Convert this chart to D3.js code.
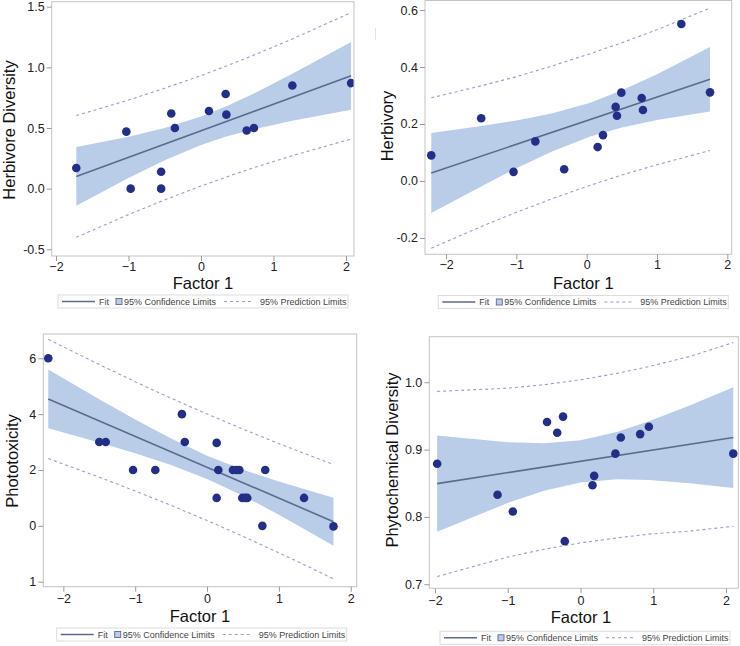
<!DOCTYPE html>
<html><head><meta charset="utf-8">
<script src="https://cdn.jsdelivr.net/npm/d3@7"></script>
<style>
body{margin:0;background:#fff}
svg{display:block;font-family:"Liberation Sans",Arial,sans-serif}
</style></head><body>
<svg id="c" width="740" height="646"></svg>
<script>
// ---------- Panel 1: Herbivore Diversity ----------
const p1X = [-1.72, -1.03, -0.97, -0.55, -0.55, -0.41, -0.36, 0.11, 0.34, 0.35, 0.63, 0.73, 1.26, 2.07];
const p1Y = [0.17, 0.47, 0.00, 0.14, 0.00, 0.62, 0.50, 0.64, 0.78, 0.61, 0.48, 0.50, 0.85, 0.87];
const p1FitX = [-1.72, 2.07];
const p1FitY = [0.101, 0.930];
const p1BandX = [-1.72, -1.0, -0.5, 0, 0.35, 0.73, 1.26, 2.07];
const p1CLlo = [-0.141, 0.088, 0.235, 0.359, 0.429, 0.489, 0.559, 0.651];
const p1CLhi = [0.343, 0.428, 0.501, 0.595, 0.679, 0.785, 0.947, 1.209];
const p1PLlo = [-0.401, -0.214, -0.092, 0.022, 0.096, 0.173, 0.272, 0.409];
const p1PLhi = [0.603, 0.730, 0.828, 0.932, 1.011, 1.101, 1.234, 1.451];
const p1XTicks = [-2, -1, 0, 1, 2];
const p1YTicks = [-0.5, 0, 0.5, 1, 1.5];
const p1YLabels = ["-0.5", "0.0", "0.5", "1.0", "1.5"];

// ---------- Panel 2: Herbivory ----------
const p2X = [-2.21, -1.50, -1.04, -0.73, -0.32, 0.156, 0.232, 0.412, 0.431, 0.493, 0.782, 0.80, 1.346, 1.754];
const p2Y = [0.09, 0.22, 0.032, 0.139, 0.041, 0.119, 0.161, 0.26, 0.229, 0.31, 0.291, 0.249, 0.551, 0.311];
const p2FitX = [-2.21, 1.754];
const p2FitY = [0.028, 0.357];
const p2BandX = [-2.21, -1.5, -1.0, -0.5, 0.04, 0.5, 1.0, 1.754];
const p2CLlo = [-0.112, -0.019, 0.045, 0.103, 0.155, 0.188, 0.214, 0.244];
const p2CLhi = [0.168, 0.193, 0.212, 0.237, 0.274, 0.318, 0.375, 0.470];
const p2PLlo = [-0.236, -0.160, -0.110, -0.063, -0.016, 0.021, 0.057, 0.107];
const p2PLhi = [0.292, 0.334, 0.366, 0.403, 0.446, 0.485, 0.531, 0.607];
const p2XTicks = [-2, -1, 0, 1, 2];
const p2YTicks = [-0.2, 0, 0.2, 0.4, 0.6];
const p2YLabels = ["-0.2", "0.0", "0.2", "0.4", "0.6"];

// ---------- Panel 3: Phototoxicity ----------
const p3X = [-2.21, -1.50, -1.41, -1.03, -0.72, -0.35, -0.31, 0.134, 0.134, 0.157, 0.36, 0.41, 0.45, 0.49, 0.53, 0.56, 0.77, 0.81, 1.35, 1.76];
const p3Y = [6, 3, 3, 2, 2, 4, 3, 2.97, 1, 2, 2, 2, 2, 1, 1, 1, 0, 2, 1, -0.02];
const p3FitX = [-2.21, 1.76];
const p3FitY = [4.545, 0.15];
const p3BandX = [-2.21, -1.5, -1.0, -0.5, 0, 0.5, 1.0, 1.35, 1.76];
const p3CLlo = [3.495, 2.981, 2.599, 2.179, 1.682, 1.079, 0.397, -0.110, -0.71];
const p3CLhi = [5.595, 4.537, 3.811, 3.125, 2.514, 2.010, 1.585, 1.317, 1.01];
const p3PLlo = [2.41, 1.743, 1.249, 0.733, 0.192, -0.373, -0.962, -1.389, -1.899];
const p3PLhi = [6.68, 5.775, 5.161, 4.571, 4.004, 3.462, 2.944, 2.596, 2.199];
const p3XTicks = [-2, -1, 0, 1, 2];
const p3YTicks = [-2, 0, 2, 4, 6];
const p3YLabels = ["1", "0", "2", "4", "6"];

// ---------- Panel 4: Phytochemical Diversity ----------
const p4X = [-1.97, -1.14, -0.93, -0.46, -0.32, -0.24, -0.216, 0.165, 0.188, 0.48, 0.554, 0.82, 0.94, 2.10];
const p4Y = [0.879, 0.833, 0.808, 0.941, 0.925, 0.949, 0.764, 0.847, 0.861, 0.894, 0.918, 0.923, 0.934, 0.894];
const p4FitX = [-1.97, 2.10];
const p4FitY = [0.8495, 0.9179];
const p4BandX = [-1.97, -1.0, -0.5, 0, 0.5, 0.94, 1.5, 2.10];
const p4CLlo = [0.778, 0.8208, 0.839, 0.8513, 0.8558, 0.8547, 0.850, 0.843];
const p4CLhi = [0.921, 0.9108, 0.9094, 0.9139, 0.9262, 0.9421, 0.9656, 0.9928];
const p4PLlo = [0.7115, 0.7404, 0.752, 0.7615, 0.7688, 0.7745, 0.779, 0.786];
const p4PLhi = [0.9865, 0.9912, 0.9964, 1.0037, 1.0132, 1.0233, 1.0383, 1.059];
const p4XTicks = [-2, -1, 0, 1, 2];
const p4YTicks = [0.7, 0.8, 0.9, 1.0];
const p4YLabels = ["0.7", "0.8", "0.9", "1.0"];

const legendItems = ["Fit", "95% Confidence Limits", "95% Prediction Limits"];
const xTitle = "Factor 1";

const C = {dot: "#232f86", fit: "#5b6b8e", band: "#b9cde9", pi: "#9b9bcc", frame: "#c4c4c4", text: "#222"};

const panels = [
  {x: p1X, y: p1Y, fx: p1FitX, fy: p1FitY, bx: p1BandX, cl: p1CLlo, ch: p1CLhi, pl: p1PLlo, ph: p1PLhi,
   xt: p1XTicks, yt: p1YTicks, yl: p1YLabels, title: "Herbivore Diversity",
   frame: [51.7, 1.7, 354, 256], xd: [-2.059, 2.110], yd: [-0.555, 1.541],
   xpad: 1, ytx: 15, yty: 130, xtx: 203, xty: 288.5, leg: [58, 301.5]},
  {x: p2X, y: p2Y, fx: p2FitX, fy: p2FitY, bx: p2BandX, cl: p2CLlo, ch: p2CLhi, pl: p2PLlo, ph: p2PLhi,
   xt: p2XTicks, yt: p2YTicks, yl: p2YLabels, title: "Herbivory",
   frame: [425, 0.5, 731.7, 254.3], xd: [-2.299, 2.062], yd: [-0.2573, 0.6334],
   xpad: 1, ytx: 393, yty: 126, xtx: 583.3, xty: 289, leg: [438.3, 302]},
  {x: p3X, y: p3Y, fx: p3FitX, fy: p3FitY, bx: p3BandX, cl: p3CLlo, ch: p3CLhi, pl: p3PLlo, ph: p3PLhi,
   xt: p3XTicks, yt: p3YTicks, yl: p3YLabels, title: "Phototoxicity",
   frame: [43.3, 334, 356.7, 586.7], xd: [-2.279, 2.083], yd: [-2.179, 6.870],
   xpad: 2.5, ytx: 18, yty: 461, xtx: 200, xty: 622, leg: [56.7, 634.5]},
  {x: p4X, y: p4Y, fx: p4FitX, fy: p4FitY, bx: p4BandX, cl: p4CLlo, ch: p4CLhi, pl: p4PLlo, ph: p4PLhi,
   xt: p4XTicks, yt: p4YTicks, yl: p4YLabels, title: "Phytochemical Diversity",
   frame: [429.3, 336.7, 738.3, 588.3], xd: [-2.078, 2.169], yd: [0.694, 1.0677],
   xpad: 3, ytx: 398, yty: 460, xtx: 581, xty: 623, leg: [440, 637.8]}
];

const svg = d3.select("#c");

// faint artifact mark near top of panel 2
svg.append("line").attr("x1", 375.5).attr("x2", 375.5).attr("y1", 28).attr("y2", 40)
  .attr("stroke", "#e2e2e2").attr("stroke-width", 1);

panels.forEach((p, pi) => {
  const [x0, y0, x1, y1] = p.frame;
  const xs = d3.scaleLinear().domain(p.xd).range([x0, x1]);
  const ys = d3.scaleLinear().domain(p.yd).range([y1, y0]);
  const g = svg.append("g");
  const cid = "clip" + pi;
  g.append("clipPath").attr("id", cid).append("rect")
    .attr("x", x0).attr("y", y0).attr("width", x1 - x0).attr("height", y1 - y0);
  const plot = g.append("g").attr("clip-path", `url(#${cid})`);
  const idx = d3.range(p.bx.length);

  plot.append("path").datum(idx)
    .attr("d", d3.area().x(i => xs(p.bx[i])).y0(i => ys(p.cl[i])).y1(i => ys(p.ch[i])))
    .attr("fill", C.band);

  plot.append("path").datum(d3.range(p.fx.length))
    .attr("d", d3.line().x(i => xs(p.fx[i])).y(i => ys(p.fy[i])))
    .attr("fill", "none").attr("stroke", C.fit).attr("stroke-width", 1.6);

  [p.pl, p.ph].forEach(arr => {
    plot.append("path").datum(idx)
      .attr("d", d3.line().x(i => xs(p.bx[i])).y(i => ys(arr[i])))
      .attr("fill", "none").attr("stroke", C.pi).attr("stroke-width", 1.1)
      .attr("stroke-dasharray", "3,3");
  });

  plot.selectAll("circle").data(d3.range(p.x.length)).join("circle")
    .attr("cx", i => xs(p.x[i])).attr("cy", i => ys(p.y[i])).attr("r", 4.3)
    .attr("fill", C.dot);

  g.append("rect").attr("x", x0).attr("y", y0).attr("width", x1 - x0).attr("height", y1 - y0)
    .attr("fill", "none").attr("stroke", C.frame).attr("stroke-width", 1);

  const xa = g.append("g").attr("transform", `translate(0,${y1})`)
    .call(d3.axisBottom(xs).tickValues(p.xt).tickFormat(d3.format("d")).tickSize(5).tickPadding(p.xpad));
  const ya = g.append("g").attr("transform", `translate(${x0},0)`)
    .call(d3.axisLeft(ys).tickValues(p.yt).tickFormat((d, i) => p.yl[i]).tickSize(5).tickPadding(2));
  [xa, ya].forEach(a => {
    a.select(".domain").remove();
    a.selectAll(".tick line").attr("stroke", "#999");
    a.selectAll(".tick text").attr("fill", C.text).style("font-size", "12.5px")
      .style("font-family", '"Liberation Sans",Arial,sans-serif');
  });

  g.append("text").attr("x", p.xtx).attr("y", p.xty).attr("text-anchor", "middle")
    .attr("fill", "#111").style("font-size", "16.5px").text(xTitle);
  g.append("text").attr("transform", `translate(${p.ytx},${p.yty}) rotate(-90)`)
    .attr("text-anchor", "middle").attr("fill", "#111").style("font-size", "16.5px").text(p.title);

  // legend
  const [lx, ly] = p.leg;
  const lg = g.append("g").style("font-size", "9px");
  lg.append("rect").attr("x", lx).attr("y", ly - 6.5).attr("width", 290).attr("height", 13)
    .attr("fill", "#fff").attr("stroke", "#dcdcdc");
  lg.append("line").attr("x1", lx + 4).attr("x2", lx + 37).attr("y1", ly).attr("y2", ly)
    .attr("stroke", C.fit).attr("stroke-width", 1.6);
  lg.append("text").attr("x", lx + 41).attr("y", ly).attr("dy", "0.35em").attr("fill", "#444").text(legendItems[0]);
  lg.append("rect").attr("x", lx + 58).attr("y", ly - 3).attr("width", 6).attr("height", 6)
    .attr("fill", C.band).attr("stroke", C.fit).attr("stroke-width", 0.9);
  lg.append("text").attr("x", lx + 66).attr("y", ly).attr("dy", "0.35em").attr("fill", "#444").text(legendItems[1]);
  lg.append("line").attr("x1", lx + 166).attr("x2", lx + 196).attr("y1", ly).attr("y2", ly)
    .attr("stroke", C.pi).attr("stroke-width", 1.1).attr("stroke-dasharray", "3,3");
  lg.append("text").attr("x", lx + 202).attr("y", ly).attr("dy", "0.35em").attr("fill", "#444").text(legendItems[2]);
});
</script>
</body></html>
